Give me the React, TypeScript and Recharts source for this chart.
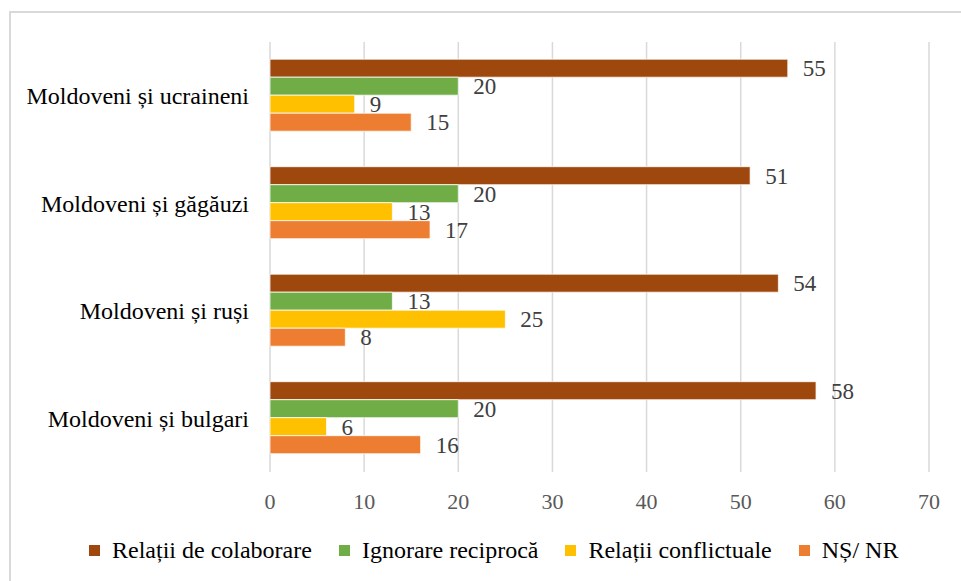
import React from "react";
import { Bar, BarChart, CartesianGrid, LabelList, Legend, XAxis, YAxis } from "recharts";

const categories = [
  "Moldoveni și ucraineni",
  "Moldoveni și găgăuzi",
  "Moldoveni și ruși",
  "Moldoveni și bulgari",
];
const colaborare = [55, 51, 54, 58];
const ignorare = [20, 20, 13, 20];
const conflictuale = [9, 13, 25, 6];
const nsnr = [15, 17, 8, 16];
const xTicks = [0, 10, 20, 30, 40, 50, 60, 70];

const series = [
  { key: "colaborare", name: "Relații de colaborare", color: "#9E480E" },
  { key: "ignorare", name: "Ignorare reciprocă", color: "#70AD47" },
  { key: "conflictuale", name: "Relații conflictuale", color: "#FFC000" },
  { key: "nsnr", name: "NȘ/ NR", color: "#ED7D31" },
];

const data = categories.map((name, i) => ({
  name,
  colaborare: colaborare[i],
  ignorare: ignorare[i],
  conflictuale: conflictuale[i],
  nsnr: nsnr[i],
}));

const FONT = "'Liberation Serif', 'Times New Roman', serif";

function LegendContent() {
  return (
    <div
      style={{
        display: "flex",
        alignItems: "center",
        paddingLeft: 89,
        height: 40,
        fontFamily: FONT,
        fontSize: 24,
        color: "#000",
        whiteSpace: "nowrap",
      }}
    >
      {series.map((s) => (
        <div key={s.key} style={{ display: "flex", alignItems: "center", marginRight: 27 }}>
          <span style={{ width: 11, height: 11, background: s.color, marginRight: 12, display: "inline-block" }} />
          <span>{s.name}</span>
        </div>
      ))}
    </div>
  );
}

export default function App() {
  return (
    <div
      style={{
        position: "absolute",
        left: 0,
        top: 0,
        width: 961,
        height: 581,
        background: "#fff",
        overflow: "hidden",
        fontFamily: FONT,
      }}
    >
      {/* chart frame: only left and top edges show in the crop */}
      <div
        style={{
          position: "absolute",
          left: 9,
          top: 11,
          width: 970,
          height: 600,
          borderLeft: "2px solid #d9d9d9",
          borderTop: "2px solid #d9d9d9",
        }}
      />
      <BarChart
        width={961}
        height={581}
        data={data}
        layout="vertical"
        barCategoryGap="16%"
        barGap={0}
        margin={{ top: 42, right: 32, left: 0, bottom: 29 }}
        style={{ position: "absolute", left: 0, top: 0 }}
      >
        <CartesianGrid horizontal={false} stroke="#d9d9d9" strokeWidth={1.5} />
        <XAxis
          type="number"
          domain={[0, 70]}
          ticks={xTicks}
          axisLine={false}
          tickLine={false}
          tickSize={0}
          tickMargin={21}
          height={40}
          tick={{ fontSize: 22, fill: "#595959", fontFamily: FONT }}
        />
        <YAxis
          type="category"
          dataKey="name"
          width={270}
          axisLine={false}
          tickLine={false}
          tickSize={0}
          tickMargin={21}
          tick={{ fontSize: 24, fill: "#000", fontFamily: FONT }}
        />
        <Legend
          verticalAlign="bottom"
          content={<LegendContent />}
          wrapperStyle={{ left: 0, width: 961, height: 40, top: 530, bottom: "auto" }}
        />
        {series.map((s) => (
          <Bar
            key={s.key}
            dataKey={s.key}
            name={s.name}
            fill={s.color}
            stroke="#ffffff"
            strokeWidth={0.75}
            isAnimationActive={false}
          >
            <LabelList
              dataKey={s.key}
              position="right"
              offset={15}
              fontFamily={FONT}
              fontSize={23}
              fill="#404040"
            />
          </Bar>
        ))}
      </BarChart>
    </div>
  );
}
